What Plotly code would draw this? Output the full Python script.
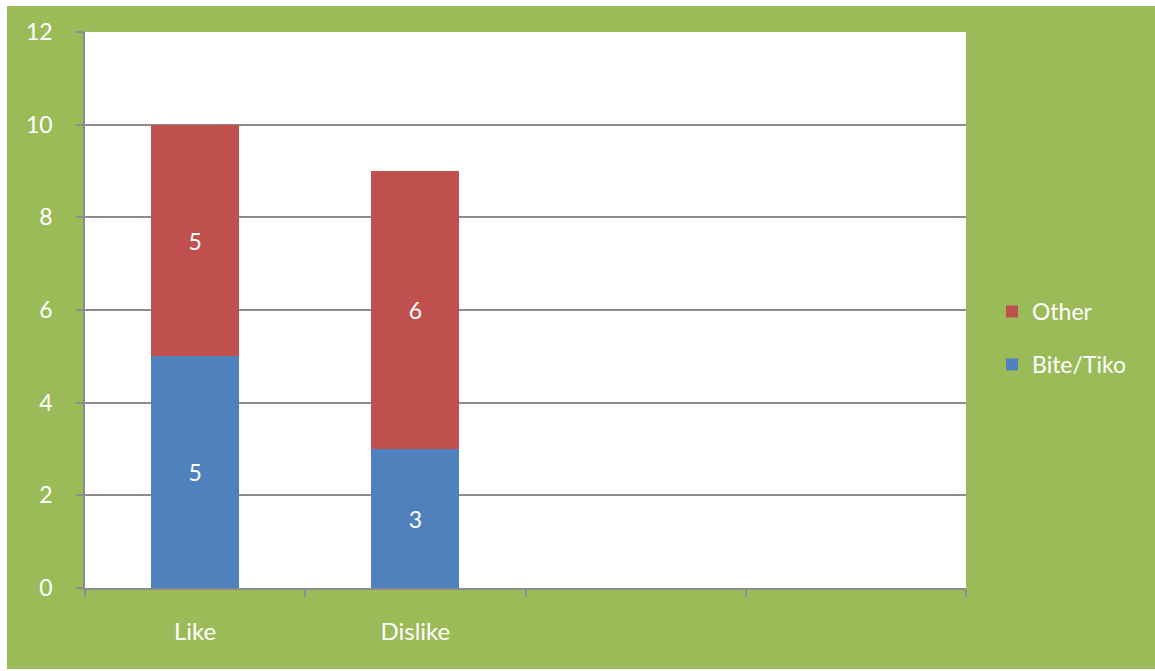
import plotly.graph_objects as go

# Category slots along the x axis (two labelled, two empty)
categories = ["Like", "Dislike", " ", "  "]
bite_tiko = [5, 3, None, None]
other = [5, 6, None, None]

y_ticks = [0, 2, 4, 6, 8, 10, 12]

GREEN = "#9BBB59"
RED = "#C0504D"
BLUE = "#4F81BD"
GRAY = "#8C8C8C"
FONT = "Lato, Open Sans, sans-serif"

W, H = 1155, 671
L, R, T, B = 85, 189, 32, 83
pw, ph = W - L - R, H - T - B

def px_x(x):
    return (x - L) / pw

def px_y(y):
    return (H - B - y) / ph

fig = go.Figure()

fig.add_trace(go.Bar(
    x=categories, y=bite_tiko, name="Bite/Tiko",
    marker=dict(color=BLUE, line=dict(width=0)),
    text=[str(v) if v is not None else "" for v in bite_tiko],
    textposition="inside", insidetextanchor="middle",
    textfont=dict(color="white", size=23, family=FONT),
    width=0.4, legendgroup="a", legendrank=2,
))
fig.add_trace(go.Bar(
    x=categories, y=other, name="Other",
    marker=dict(color=RED, line=dict(width=0)),
    text=[str(v) if v is not None else "" for v in other],
    textposition="inside", insidetextanchor="middle",
    textfont=dict(color="white", size=23, family=FONT),
    width=0.4, legendgroup="b", legendrank=1,
))

# white frame strips around the green chart area
strips = [
    (px_x(0), px_x(7), px_y(H), px_y(0)),
    (px_x(0), px_x(W), px_y(6), px_y(0)),
    (px_x(0), px_x(W), px_y(H), px_y(669)),
]
shapes = [
    dict(type="rect", xref="paper", yref="paper", x0=a, x1=b, y0=c, y1=d,
         fillcolor="white", line=dict(width=0), layer="below")
    for a, b, c, d in strips
]

fig.update_layout(
    width=W, height=H,
    margin=dict(l=L, r=R, t=T, b=B, pad=0),
    barmode="stack",
    paper_bgcolor=GREEN,
    plot_bgcolor="white",
    shapes=shapes,
    uniformtext=dict(minsize=23, mode="show"),
    font=dict(family=FONT, color="white", size=23),
    xaxis=dict(
        type="category", categoryorder="array", categoryarray=categories,
        range=[-0.5, 3.5], tickson="boundaries",
        ticks="outside", ticklen=7, tickwidth=1.5, tickcolor=GRAY,
        showline=True, linecolor=GRAY, linewidth=1.5,
        showgrid=False, ticklabelstandoff=21,
        tickfont=dict(color="white", size=24, family=FONT),
    ),
    yaxis=dict(
        range=[0, 12], tickvals=y_ticks,
        ticks="outside", ticklen=7, tickwidth=1.5, tickcolor=GRAY,
        showline=True, linecolor=GRAY, linewidth=1.5,
        showgrid=True, gridcolor=GRAY, gridwidth=1.5,
        zeroline=False, ticklabelstandoff=19,
        tickfont=dict(color="white", size=23, family=FONT),
    ),
    legend=dict(
        x=px_x(992), y=px_y(338), xanchor="left", yanchor="middle",
        traceorder="grouped", tracegroupgap=20,
        bgcolor="rgba(0,0,0,0)",
        font=dict(color="white", size=23, family=FONT),
    ),
    showlegend=True,
)

fig.write_html("out.html")
